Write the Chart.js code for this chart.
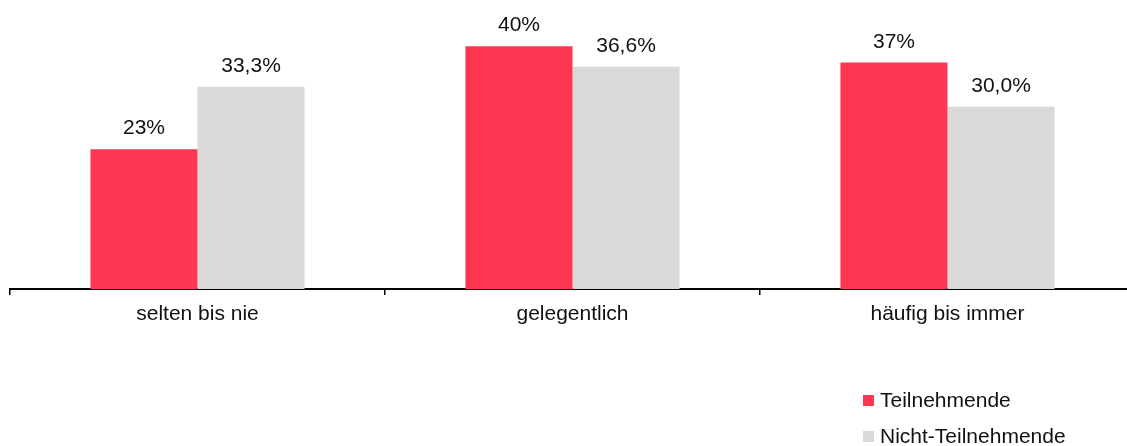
<!DOCTYPE html>
<html>
<head>
<meta charset="utf-8">
<script src="https://cdn.jsdelivr.net/npm/chart.js@4"></script>
<style>
  html, body { margin: 0; padding: 0; background: #fff; overflow: hidden; }
  #wrap { position: relative; width: 1135px; height: 446px; }
  #legend { position: absolute; left: 863px; top: 382px; font: 21px "Liberation Sans", Arial, sans-serif; color: #111; }
  #legend div { height: 36px; display: flex; align-items: center; }
  #legend span { display: inline-block; width: 11px; height: 11px; margin-right: 6px; }
</style>
</head>
<body>
<div id="wrap">
  <canvas id="myChart" width="1135" height="446"></canvas>
  <div id="legend"></div>
</div>
<script>
const categories = ['selten bis nie', 'gelegentlich', 'häufig bis immer'];
const teilnehmende = [23, 40, 37.3];
const nichtTeilnehmende = [33.3, 36.6, 30.0];
const seriesNames = ['Teilnehmende', 'Nicht-Teilnehmende'];
const seriesColors = ['#ff3652', '#d9d9d9'];
const seriesDecimals = [0, 1];

const ctx = document.getElementById('myChart').getContext('2d');

//draws the value above every bar
const valueLabels = {
    id: 'valueLabels',
    afterDatasetsDraw(chart) {
        const c = chart.ctx;
        c.save();
        c.font = '21px "Liberation Sans", Arial, sans-serif';
        c.fillStyle = '#111';
        c.textAlign = 'center';
        c.textBaseline = 'alphabetic';
        chart.data.datasets.forEach((ds, i) => {
            chart.getDatasetMeta(i).data.forEach((bar, j) => {
                const txt = ds.data[j].toFixed(seriesDecimals[i]).replace('.', ',') + '%';
                c.fillText(txt, bar.x, bar.y - 15);
            });
        });
        c.restore();
    }
};

const myChart = new Chart(ctx, {
    type: 'bar',
    data: {
        labels: categories,
        datasets: [
            { label: seriesNames[0], data: teilnehmende, backgroundColor: seriesColors[0] },
            { label: seriesNames[1], data: nichtTeilnehmende, backgroundColor: seriesColors[1] }
        ]
    },
    options: {
        responsive: false,
        animation: false,
        devicePixelRatio: 1,
        layout: { padding: { left: 10, right: 0, top: 0, bottom: 0 } },
        datasets: {
            bar: { categoryPercentage: 0.571, barPercentage: 1 }
        },
        plugins: {
            legend: { display: false },
            tooltip: { enabled: false }
        },
        scales: {
            x: {
                grid: {
                    display: true,
                    offset: true,
                    drawOnChartArea: false,
                    drawTicks: true,
                    tickLength: 6,
                    color: '#000',
                    lineWidth: 1.5
                },
                border: { display: true, color: '#000', width: 2 },
                ticks: {
                    color: '#111',
                    padding: 7,
                    font: { family: '"Liberation Sans", Arial, sans-serif', size: 21 }
                },
                afterFit(scale) { scale.height = 446 - 289; }
            },
            y: {
                display: false,
                min: 0,
                max: 47.6
            }
        }
    },
    plugins: [valueLabels]
});

//legend stacked vertically in the bottom right
const legend = document.getElementById('legend');
myChart.data.datasets.forEach(ds => {
    const row = document.createElement('div');
    row.innerHTML = '<span style="background:' + ds.backgroundColor + '"></span>' + ds.label;
    legend.appendChild(row);
});
</script>
</body>
</html>
